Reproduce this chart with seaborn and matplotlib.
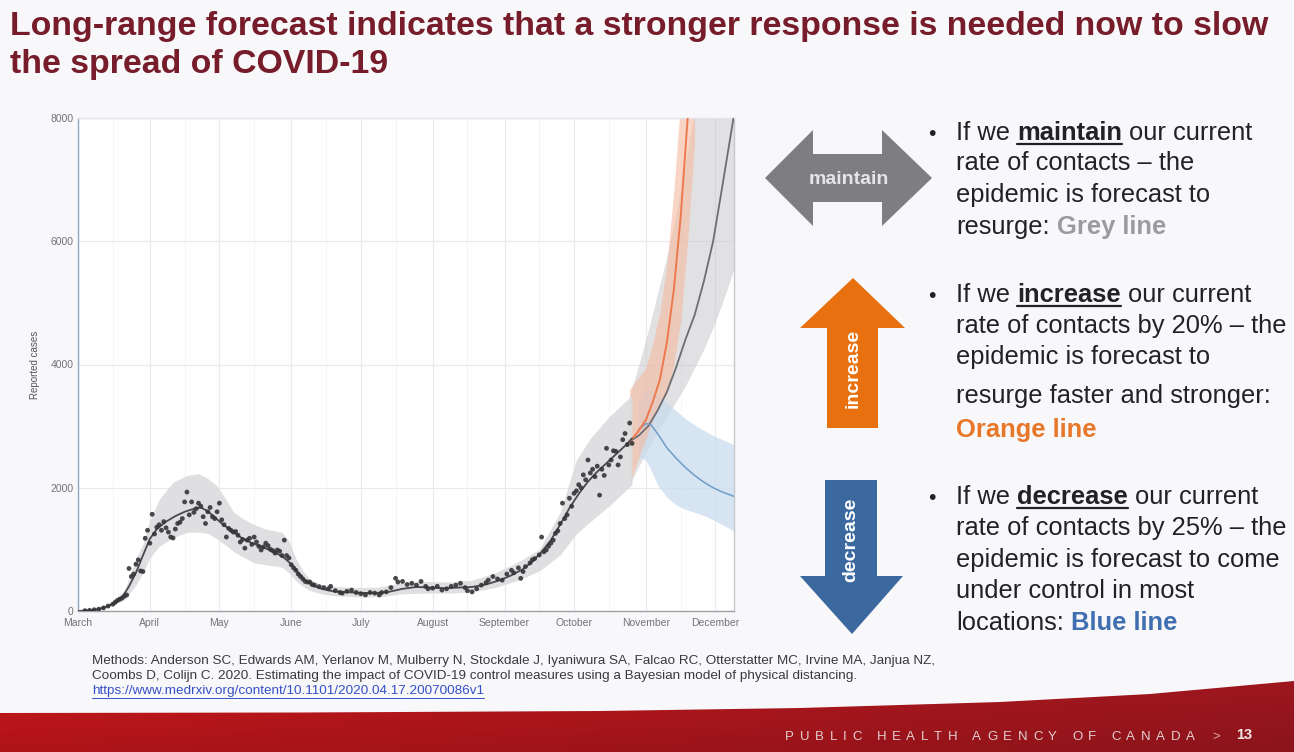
import numpy as np
import pandas as pd
import matplotlib
matplotlib.use("Agg")
import matplotlib.pyplot as plt
import seaborn as sns
from matplotlib.patches import Polygon

# ---------------- DATA ----------------
months = ["March", "April", "May", "June", "July", "August",
          "September", "October", "November", "December"]
month_start_day = [0, 31, 61, 92, 122, 153, 184, 214, 245, 275]
mid_month_day = [15, 46, 76, 107, 137, 168, 199, 229, 260]
y_ticks = [0, 2000, 4000, 6000, 8000]

obs_day = [3, 5, 7, 9, 11, 13, 15, 16, 17, 18, 19, 20, 21, 22, 23, 24, 25, 26, 27, 28, 29, 30,
           31, 32, 33, 34, 35, 36, 37, 38, 39, 40, 41, 42, 43, 44, 45, 46, 47, 48, 49, 50, 51, 52,
           53, 54, 55, 56, 57, 58, 59, 60, 61, 62, 63, 64, 65, 66, 67, 68, 69, 70, 71, 72, 73, 74,
           75, 76, 77, 78, 79, 80, 81, 82, 83, 84, 85, 86, 87, 88, 89, 90, 91, 92, 93, 94, 95, 96,
           97, 98, 99, 100, 101, 102, 104, 106, 108, 109, 111, 113, 114, 116, 118, 120, 122, 124,
           126, 128, 130, 131, 133, 135, 137, 138, 140, 142, 144, 146, 148, 150, 151, 153, 155,
           157, 159, 161, 163, 165, 167, 168, 170, 172, 174, 176, 177, 179, 181, 183, 185, 187,
           188, 190, 191, 192, 193, 195, 196, 197, 199, 200, 201, 202, 203, 204, 205, 206, 207,
           208, 209, 210, 211, 212, 213, 214, 215, 216, 217, 218, 219, 220, 221, 222, 223, 224,
           225, 226, 227, 228, 229, 230, 231, 232, 233, 234, 235, 236, 237, 238, 239]
obs_cases = [5, 10, 20, 30, 50, 80, 110, 140, 170, 190, 210, 240, 260, 690, 560, 600, 760, 830,
             650, 640, 1180, 1310, 1100, 1570, 1250, 1360, 1400, 1310, 1450, 1350, 1280, 1200,
             1185, 1330, 1420, 1440, 1500, 1770, 1930, 1560, 1770, 1600, 1660, 1750, 1700, 1530,
             1420, 1610, 1680, 1530, 1500, 1610, 1750, 1480, 1400, 1200, 1340, 1310, 1280, 1290,
             1230, 1120, 1160, 1020, 1150, 1180, 1080, 1200, 1120, 1050, 990, 1040, 1100, 1060,
             1000, 980, 940, 990, 970, 900, 1150, 900, 860, 750, 700, 660, 600, 560, 520, 480,
             470, 470, 430, 420, 395, 380, 360, 400, 330, 300, 290, 320, 340, 300, 280, 260, 300,
             290, 260, 300, 310, 380, 530, 470, 480, 430, 450, 420, 480, 400, 360, 370, 400, 340,
             360, 400, 420, 450, 380, 330, 310, 360, 420, 460, 500, 560, 520, 500, 600, 660, 620,
             700, 530, 640, 720, 780, 830, 850, 910, 1200, 960, 990, 1050, 1100, 1150, 1260, 1300,
             1420, 1750, 1500, 1560, 1830, 1700, 1910, 1950, 2050, 2000, 2210, 2130, 2450, 2240,
             2300, 2180, 2350, 1880, 2300, 2200, 2640, 2370, 2450, 2600, 2590, 2370, 2500, 2780,
             2880, 2700, 3050, 2720]

fit_day = [0, 5, 9, 13, 16, 19, 22, 25, 28, 31, 34, 38, 42, 46, 50, 53, 56, 59, 62, 66, 70, 74,
           78, 82, 86, 89, 92, 95, 98, 101, 105, 110, 116, 122, 128, 134, 140, 146, 152, 158,
           164, 170, 176, 182, 187, 192, 196, 200, 204, 208, 212, 216, 220, 224, 228, 232, 236,
           239]
fit_cases = [0, 10, 30, 80, 140, 220, 400, 620, 900, 1170, 1330, 1450, 1540, 1610, 1660, 1680,
             1620, 1520, 1420, 1310, 1200, 1120, 1060, 1000, 930, 860, 760, 620, 500, 420, 360,
             320, 305, 295, 290, 310, 360, 390, 380, 370, 380, 390, 430, 500, 580, 680, 800, 960,
             1150, 1400, 1670, 1900, 2100, 2260, 2400, 2540, 2680, 2800]

band_day = [15, 20, 25, 28, 31, 35, 41, 47, 52, 56, 60, 64, 67, 71, 76, 81, 85, 88, 91, 94, 97,
            100, 105, 110, 120, 130, 140, 150, 160, 170, 180, 190, 199, 208, 215, 221, 229, 239]
band_lo = [100, 180, 420, 620, 860, 1050, 1190, 1275, 1280, 1260, 1170, 1060, 970, 880, 780, 750,
           730, 710, 620, 490, 400, 330, 280, 250, 230, 230, 280, 290, 290, 310, 380, 500, 650,
           910, 1250, 1450, 1700, 2050]
band_hi = [180, 330, 850, 1080, 1470, 1810, 2090, 2200, 2230, 2150, 2030, 1800, 1610, 1500, 1400,
           1330, 1300, 1280, 1140, 850, 650, 520, 430, 400, 380, 390, 460, 480, 470, 500, 620,
           800, 1000, 1600, 2450, 2800, 3150, 3500]

maint_day = [238, 242, 246, 250, 254, 258, 262, 266, 270, 274, 278, 283]
maint_cases = [2750, 2850, 3000, 3250, 3550, 3950, 4400, 4800, 5350, 6000, 6900, 8050]
maint_lo = [2050, 2350, 2650, 2900, 3150, 3400, 3650, 3950, 4250, 4600, 5000, 5550]
maint_hi = [3500, 4000, 4550, 5150, 5750, 6450, 7250, 8100, 9000, 9800, 10500, 11500]

incr_day = [238, 241, 245, 248, 251, 254, 257, 260, 263, 266]
incr_cases = [2750, 2880, 3100, 3400, 3750, 4350, 5200, 6400, 8000, 9800]
incr_lo = [2050, 2400, 2800, 3100, 3350, 3550, 4000, 4700, 6000, 7600]
incr_hi = [3600, 3750, 3950, 4350, 4850, 5600, 6800, 8300, 10000, 12000]

decr_day = [242, 245, 247, 250, 254, 258, 262, 266, 270, 274, 278, 283]
decr_cases = [2950, 3040, 3030, 2880, 2650, 2480, 2330, 2200, 2090, 2000, 1930, 1860]
decr_lo = [2500, 2450, 2300, 2050, 1850, 1720, 1650, 1600, 1550, 1480, 1400, 1300]
decr_hi = [3400, 3600, 3580, 3500, 3380, 3250, 3120, 3020, 2930, 2850, 2780, 2700]

title_lines = ["Long-range forecast indicates that a stronger response is needed now to slow",
               "the spread of COVID-19"]
footer_lines = ["Methods: Anderson SC, Edwards AM, Yerlanov M, Mulberry N, Stockdale J, Iyaniwura SA, "
                "Falcao RC, Otterstatter MC, Irvine MA, Janjua NZ,",
                "Coombs D, Colijn C. 2020. Estimating the impact of COVID-19 control measures using a "
                "Bayesian model of physical distancing."]
footer_link = "https://www.medrxiv.org/content/10.1101/2020.04.17.20070086v1"

# ---------------- FIGURE ----------------
sns.set_theme(style="white")
plt.rcParams['font.family'] = ['Liberation Sans', 'DejaVu Sans']

W, H = 1294, 752
fig = plt.figure(figsize=(W / 100, H / 100), dpi=100, facecolor="#f8f8fa")

# overlay axes in pixel coordinates
ax_o = fig.add_axes([0, 0, 1, 1], zorder=0)
ax_o.set_xlim(0, W)
ax_o.set_ylim(H, 0)
ax_o.axis("off")
ax_o.patch.set_alpha(0)

# ---- chart ----
ax = fig.add_axes([78 / W, (H - 611) / H, 656 / W, 493 / H], zorder=2)
ax.set_facecolor("white")

obs = pd.DataFrame({"day": obs_day, "cases": obs_cases})
fit = pd.DataFrame({"day": fit_day, "cases": fit_cases})

ax.fill_between(maint_day, maint_lo, maint_hi, color="#c9c9cd", alpha=0.55, lw=0, zorder=1)
ax.fill_between(decr_day, decr_lo, decr_hi, color="#cadcee", alpha=0.75, lw=0, zorder=1.1)
ax.fill_between(incr_day, incr_lo, incr_hi, color="#f6b9a0", alpha=0.6, lw=0, zorder=1.2)
ax.fill_between(band_day, band_lo, band_hi, color="#dcdcdf", alpha=0.9, lw=0, zorder=1.3)

sns.lineplot(x=maint_day, y=maint_cases, ax=ax, color="#6e6e72", lw=1.3, zorder=3)
sns.lineplot(x=decr_day, y=decr_cases, ax=ax, color="#6e9dc9", lw=1.1, zorder=3)
sns.lineplot(x=incr_day, y=incr_cases, ax=ax, color="#ec7a4e", lw=1.4, zorder=3.2)
sns.lineplot(data=fit, x="day", y="cases", ax=ax, color="#4a4a4e", lw=1.3, zorder=3.4)
sns.scatterplot(data=obs, x="day", y="cases", ax=ax, color="#353538", s=12,
                edgecolor="none", alpha=0.9, zorder=4)

ax.set_xlim(0, 283)
ax.set_ylim(0, 8000)
ax.set_xticks(month_start_day)
ax.set_xticklabels(months)
ax.set_xticks(mid_month_day, minor=True)
ax.set_yticks(y_ticks)
ax.set_yticklabels([str(v) for v in y_ticks])
ax.grid(True, which="major", color="#e8eaee", lw=0.9, zorder=0)
ax.grid(True, which="minor", axis="x", color="#f4f5f7", lw=0.7, zorder=0)
ax.set_axisbelow(True)
ax.tick_params(axis="both", which="both", length=0, labelsize=7.5, labelcolor="#737377")
ax.tick_params(axis="x", pad=5)
ax.tick_params(axis="y", pad=3)
ax.set_xlabel("")
ax.set_ylabel("")
for s, c in [("left", "#8fa6c0"), ("bottom", "#a0a0a4"), ("right", "#c8c8cc"), ("top", "#e6e6ea")]:
    ax.spines[s].set_visible(True)
    ax.spines[s].set_color(c)
    ax.spines[s].set_linewidth(1.0)

ax_o.text(35, 365, "Reported cases", rotation=90, ha="center", va="center",
          fontsize=7, color="#555558")

# ---- title ----
for i, line in enumerate(title_lines):
    ax_o.text(10, 26 + i * 39, line, ha="left", va="center", fontsize=24.4,
              fontweight="bold", color="#761c2a")

# ---- arrows ----
ax_o.add_patch(Polygon([(765, 178), (813, 130), (813, 154), (882, 154), (882, 130), (932, 178),
                        (882, 226), (882, 202), (813, 202), (813, 226)],
                       closed=True, color="#7e7e80", lw=0))
ax_o.text(849, 179, "maintain", ha="center", va="center", fontsize=14, fontweight="bold",
          color="#e6e6e8")
ax_o.add_patch(Polygon([(853, 278), (905, 328), (878, 328), (878, 428), (827, 428), (827, 328),
                        (800, 328)], closed=True, color="#e8700e", lw=0))
ax_o.text(853, 368, "increase", rotation=90, ha="center", va="center", fontsize=14,
          fontweight="bold", color="white")
ax_o.add_patch(Polygon([(825, 480), (877, 480), (877, 576), (903, 576), (852, 634), (800, 576),
                        (825, 576)], closed=True, color="#3b689e", lw=0))
ax_o.text(851, 540, "decrease", rotation=90, ha="center", va="center", fontsize=14,
          fontweight="bold", color="white")

# ---- rich text helper ----
renderer = fig.canvas.get_renderer()


def text_w(t):
    return t.get_window_extent(renderer).width


def space_w(size, weight):
    a = ax_o.text(0, 0, "x x", fontsize=size, fontweight=weight)
    b = ax_o.text(0, 0, "xx", fontsize=size, fontweight=weight)
    w = text_w(a) - text_w(b)
    a.remove(); b.remove()
    return w


def draw_runs(x, y, runs, size):
    for txt, st in runs:
        weight = st.get("weight", "normal")
        lead = len(txt) - len(txt.lstrip(" "))
        core = txt.strip(" ")
        x += lead * space_w(size, weight)
        t = ax_o.text(x, y, core, fontsize=size, fontweight=weight, ha="left", va="baseline",
                      color=st.get("color", "#222224"))
        w = text_w(t)
        if st.get("underline"):
            ax_o.plot([x, x + w], [y + 3.5, y + 3.5], color=st.get("color", "#222224"), lw=1.6)
        x += w
    return x


N = {}
B = {"weight": "bold", "underline": True}
FS = 18.4
bullets = [
    (133, [[("If we", N), (" maintain", B), (" our current", N)],
           [("rate of contacts – the", N)],
           [("epidemic is forecast to", N)],
           [("resurge:", N), (" Grey line", {"weight": "bold", "color": "#9b9b9e"})]]),
    (295, [[("If we", N), (" increase", B), (" our current", N)],
           [("rate of contacts by 20% – the", N)],
           [("epidemic is forecast to", N)],
           [("resurge faster and stronger:", N)],
           [("Orange line", {"weight": "bold", "color": "#e8772a"})]]),
    (497, [[("If we", N), (" decrease", B), (" our current", N)],
           [("rate of contacts by 25% – the", N)],
           [("epidemic is forecast to come", N)],
           [("under control in most", N)],
           [("locations:", N), (" Blue line", {"weight": "bold", "color": "#3f6fb0"})]]),
]
line_gaps = [[0, 30, 62, 94], [0, 31, 62, 101, 135], [0, 31, 63, 94, 126]]
for (y0, lines), gaps in zip(bullets, line_gaps):
    ax_o.text(932, y0 + 7, "•", fontsize=FS - 3, ha="center", va="baseline", color="#222224")
    for runs, g in zip(lines, gaps):
        draw_runs(956, y0 + g + 7, runs, FS)

# ---- footer ----
FF = 9.7
for i, line in enumerate(footer_lines):
    ax_o.text(92, 661 + i * 15, line, ha="left", va="center", fontsize=FF, color="#3a3a3c")
lk = ax_o.text(92, 691, footer_link, ha="left", va="center", fontsize=FF, color="#3550c8")
lw_ = text_w(lk)
ax_o.plot([92, 92 + lw_], [697.5, 697.5], color="#3550c8", lw=0.7)

# ---- red band ----
top_edge = [(0, 713), (300, 712.5), (600, 711), (800, 708), (1000, 702), (1150, 694), (1294, 681)]
band_poly = Polygon(top_edge + [(1294, 752), (0, 752)], closed=True, facecolor="none", lw=0)
ax_o.add_patch(band_poly)
gx = np.linspace(0, 1, 200)
gy = np.linspace(0, 1, 40)
GX, GY = np.meshgrid(gx, gy)
c_left = np.array([0.78, 0.09, 0.11])
c_right = np.array([0.62, 0.09, 0.12])
img = (c_left[None, None, :] * (1 - GX[..., None]) + c_right[None, None, :] * GX[..., None])
img = img * (1 - 0.12 * GY[..., None])
im = ax_o.imshow(img, extent=[0, 1294, 752, 678], aspect="auto", zorder=0.5, origin="upper")
im.set_clip_path(band_poly)

# footer agency text with letter spacing
agency = "PUBLIC HEALTH AGENCY OF CANADA"
fs_ag = 9.5
widths = []
for ch in agency:
    if ch == " ":
        widths.append(space_w(fs_ag, "normal"))
    else:
        t = ax_o.text(0, 0, ch, fontsize=fs_ag)
        widths.append(text_w(t))
        t.remove()
x_start, x_end = 785, 1195
track = (x_end - x_start - sum(widths)) / (len(agency) - 1)
xx = x_start
for ch, w in zip(agency, widths):
    if ch != " ":
        ax_o.text(xx, 737, ch, fontsize=fs_ag, ha="left", va="center", color="#e2cfd0", zorder=3)
    xx += w + track
ax_o.text(1216, 737, ">", fontsize=fs_ag, ha="center", va="center", color="#e2a8aa", zorder=3)
ax_o.text(1244, 735, "13", fontsize=10.5, fontweight="bold", ha="center", va="center",
          color="#f4e8e8", zorder=3)

fig.savefig("out.png", dpi=100, facecolor=fig.get_facecolor())
